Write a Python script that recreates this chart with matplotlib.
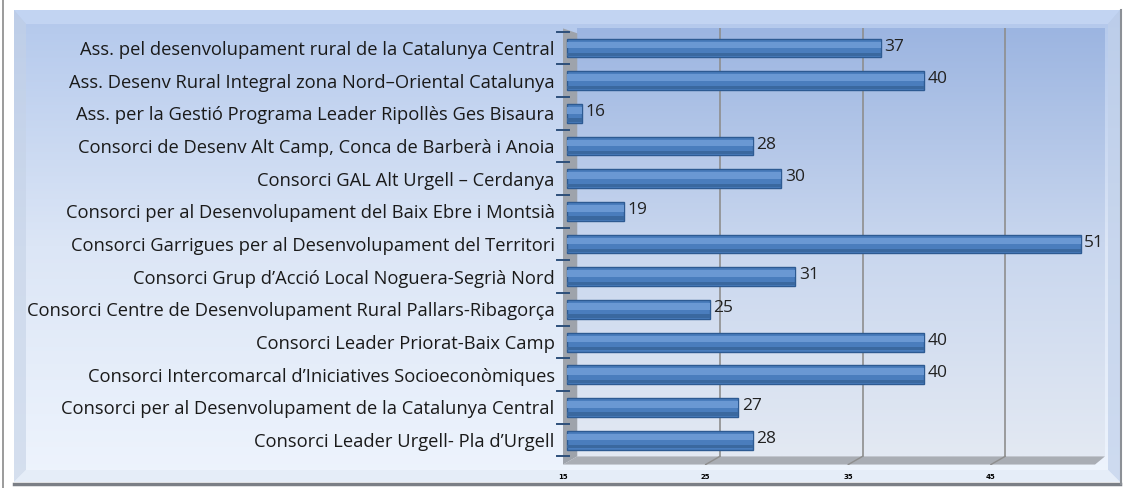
import numpy as np
import matplotlib
matplotlib.use("Agg")
import matplotlib.pyplot as plt
from matplotlib.patches import Polygon
from matplotlib.colors import LinearSegmentedColormap

categories = [
    "Ass. pel desenvolupament rural de la Catalunya Central",
    "Ass. Desenv Rural Integral zona Nord–Oriental Catalunya",
    "Ass. per la Gestió Programa Leader Ripollès Ges Bisaura",
    "Consorci de Desenv Alt Camp, Conca de Barberà i Anoia",
    "Consorci GAL Alt Urgell – Cerdanya",
    "Consorci per al Desenvolupament del Baix Ebre i Montsià",
    "Consorci Garrigues per al Desenvolupament del Territori",
    "Consorci Grup d’Acció Local Noguera-Segrià Nord",
    "Consorci Centre de Desenvolupament Rural Pallars-Ribagorça",
    "Consorci Leader Priorat-Baix Camp",
    "Consorci Intercomarcal d’Iniciatives Socioeconòmiques",
    "Consorci per al Desenvolupament de la Catalunya Central",
    "Consorci Leader Urgell- Pla d’Urgell",
]
values = [37, 40, 16, 28, 30, 19, 51, 31, 25, 40, 40, 27, 28]
xticks = [15, 25, 35, 45]

W, H = 1126, 488
fig = plt.figure(figsize=(W / 100, H / 100), dpi=100)
fig.patch.set_facecolor("white")

# background panel
bg = fig.add_axes([0, 0, 1, 1])
bg.set_xlim(0, W)
bg.set_ylim(H, 0)
bg.axis("off")
grad = np.linspace(0, 1, 256).reshape(-1, 1)
cm_bg = LinearSegmentedColormap.from_list("bg", ["#b3c8ec", "#dce6f6", "#eef4fd"])
bg.imshow(grad, cmap=cm_bg, extent=[14, 1120, 482, 10], aspect="auto", zorder=0)
bg.add_patch(Polygon([[14, 10], [1120, 10], [1108, 24], [26, 24]], closed=True,
                     facecolor="#c9daf5", edgecolor="none", alpha=0.7, zorder=1))
bg.add_patch(Polygon([[14, 10], [26, 24], [26, 470], [14, 482]], closed=True,
                     facecolor="#c5d2e6", edgecolor="none", alpha=0.6, zorder=1))
bg.add_patch(Polygon([[1120, 10], [1108, 24], [1108, 470], [1120, 482]], closed=True,
                     facecolor="#c0d0ea", edgecolor="none", alpha=0.7, zorder=1))
bg.add_patch(Polygon([[14, 482], [26, 470], [1108, 470], [1120, 482]], closed=True,
                     facecolor="#e4ecf8", edgecolor="none", alpha=0.8, zorder=1))
bg.plot([3, 3], [0, 488], color="#8a8a8a", lw=1.2, zorder=2)
bg.plot([14, 1120], [484, 484], color="#7b7f86", lw=2.5, zorder=2)
bg.plot([1121, 1121], [10, 484], color="#8c9096", lw=1.5, zorder=2)

# main axes
n = len(categories)
ytop_u, ybot_u = -0.6, n - 0.25
px_per_u = 32.67
top_px = 48 - (0 - ytop_u) * px_per_u
bot_px = top_px + (ybot_u - ytop_u) * px_per_u
left_px, right_px = 563, 1105
ax = fig.add_axes([left_px / W, 1 - bot_px / H, (right_px - left_px) / W, (bot_px - top_px) / H])
ax.set_xlim(15, 53)
ax.set_ylim(ybot_u, ytop_u)
ax.set_facecolor("none")

wall = np.linspace(0, 1, 256).reshape(-1, 1)
cm_wall = LinearSegmentedColormap.from_list("wall", ["#9cb5e1", "#c8d6ee", "#e3e9f3"])
ax.imshow(wall, cmap=cm_wall, extent=[16, 53, n - 0.5, ytop_u], aspect="auto", zorder=0)
ax.add_patch(Polygon([[15, ytop_u], [16, ytop_u + 0.15], [16, n - 0.5], [15, ybot_u]],
                     closed=True, facecolor="#9ea3ab", edgecolor="none", zorder=1))
ax.add_patch(Polygon([[15, ybot_u], [16, n - 0.5], [53, n - 0.5], [52.3, ybot_u]],
                     closed=True, facecolor="#a9adb4", edgecolor="none", zorder=1))

for t in xticks[1:]:
    ax.plot([t + 1, t + 1], [ytop_u, n - 0.5], color="#8e8e8e", lw=1.2, zorder=1)
    ax.plot([t, t + 1], [ybot_u, n - 0.5], color="#8e8e8e", lw=1.0, zorder=2)

y = np.arange(n)
widths = [v - 15 for v in values]
ax.barh(y, widths, left=15.3, height=0.58, color="#4a7dbd", edgecolor="#2d5a92", lw=1.0, zorder=3)
ax.barh(y - 0.09, widths, left=15.3, height=0.2, color="#6a98d3", edgecolor="none", zorder=4)
ax.barh(y + 0.2, widths, left=15.3, height=0.1, color="#3a689f", edgecolor="none", zorder=4)

for yi, v in zip(y, values):
    ax.text(v + 0.55, yi - 0.04, str(v), fontsize=12.5, family="Open Sans", color="#222222",
            va="center", ha="left", zorder=5)

ax.set_yticks(y)
ax.set_yticklabels(categories, fontsize=13.2, family="Open Sans", color="#1a1a1a")
ax.tick_params(axis="y", length=0, pad=6)
ax.set_xticks(xticks)
ax.set_xticklabels([str(t) for t in xticks], fontsize=5, fontweight="bold", family="DejaVu Sans")
ax.tick_params(axis="x", length=0, pad=7)
for b in np.arange(-0.5, n, 1):
    ax.plot([14.6, 15.4], [b, b], color="#2d4f7a", lw=1.4, zorder=6, clip_on=False)
for s in ax.spines.values():
    s.set_visible(False)

fig.savefig("out.png", dpi=100)
